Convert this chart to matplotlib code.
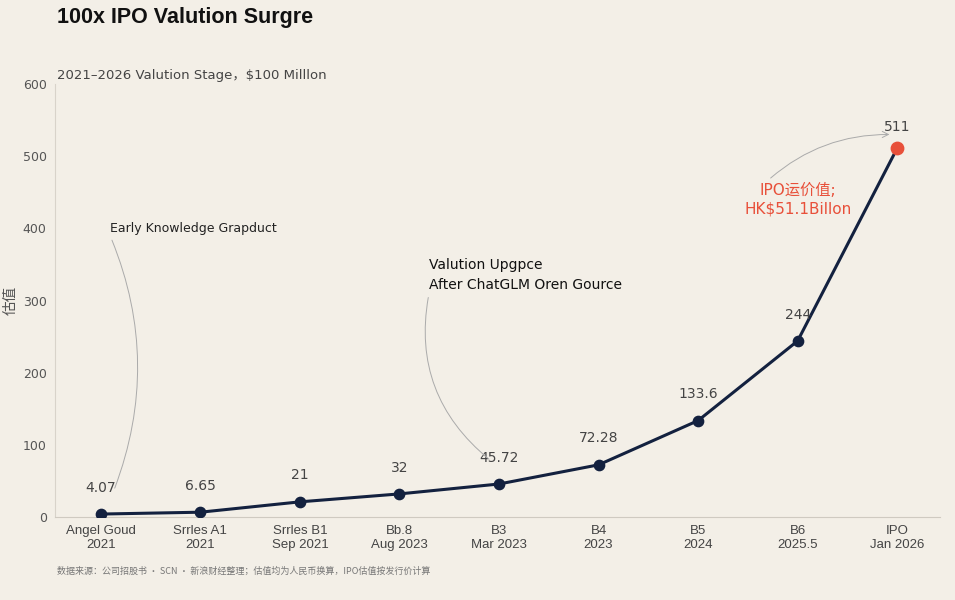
import matplotlib
matplotlib.use("Agg")
import matplotlib.pyplot as plt

plt.rcParams['font.family'] = ['DejaVu Sans', 'Noto Sans CJK SC']

stages = ["Angel Goud\n2021", "Srrles A1\n2021", "Srrles B1\nSep 2021", "Bb.8\nAug 2023",
          "B3\nMar 2023", "B4\n2023", "B5\n2024", "B6\n2025.5", "IPO\nJan 2026"]
values = [4.07, 6.65, 21, 32, 45.72, 72.28, 133.6, 244, 511]
value_labels = ["4.07", "6.65", "21", "32", "45.72", "72.28", "133.6", "244", "511"]
yticks = [0, 100, 200, 300, 400, 500, 600]

bg = "#f3efe7"
navy = "#13213f"
red = "#e8503a"

fig = plt.figure(figsize=(9.55, 6.0), dpi=100, facecolor=bg)
ax = fig.add_axes([55/955, 1-517/600, (940-55)/955, (517-84)/600])
ax.set_facecolor(bg)

x = list(range(len(values)))
ax.plot(x, values, color=navy, lw=2.2, zorder=3)
ax.scatter(x[:-1], values[:-1], s=55, color=navy, zorder=4)
ax.scatter([x[-1]], [values[-1]], s=80, color=red, zorder=5)

for xi, v, lab in zip(x, values, value_labels):
    ax.annotate(lab, (xi, v), xytext=(0, 15 if xi == 8 else 19), textcoords="offset points",
                ha="center", va="center", fontsize=10, color="#444444")

ax.set_xlim(-0.46, 8.43)
ax.set_ylim(0, 600)
ax.set_yticks(yticks)
ax.set_yticklabels([str(t) for t in yticks], fontsize=9, color="#555555")
ax.set_xticks(x)
ax.set_xticklabels(stages, fontsize=9.5, color="#444444", family=['Liberation Sans', 'DejaVu Sans'])
ax.tick_params(axis="both", length=0, pad=6)
ax.tick_params(axis="y", pad=6)
for s in ["top", "right"]:
    ax.spines[s].set_visible(False)
ax.spines["left"].set_color("#d8d3ca")
ax.spines["bottom"].set_color("#cfcac1")

fig.text(11/955, 1-300/600, "估值", fontsize=10.5, color="#555555", rotation=90,
         ha="center", va="center", family=['Noto Sans CJK SC', 'DejaVu Sans'])

# annotations
ax.annotate("Early Knowledge Grapduct", xy=(0.14, 40), xytext=(0.09, 400),
            fontsize=9, color="#222222", ha="left", va="center",
            arrowprops=dict(arrowstyle="-", color="#aaaaaa", lw=0.7, relpos=(0.0, 0.0),
                            connectionstyle="arc3,rad=-0.2", shrinkA=2, shrinkB=0))
ax.annotate("Valution Upgpce\nAfter ChatGLM Oren Gource", xy=(3.9, 80), xytext=(3.3, 335),
            fontsize=10, color="#111111", ha="left", va="center", linespacing=1.5,
            arrowprops=dict(arrowstyle="-", color="#aaaaaa", lw=0.7, relpos=(0.0, 0.0),
                            connectionstyle="arc3,rad=0.3", shrinkA=2, shrinkB=0))
ax.annotate("IPO运价值;\nHK$51.1Billon", xy=(7.95, 530), xytext=(7.0, 440),
            fontsize=11, color=red, ha="center", va="center", linespacing=1.3,
            family=['DejaVu Sans', 'Noto Sans CJK SC'],
            arrowprops=dict(arrowstyle="->", color="#aaaaaa", lw=0.7, relpos=(0.2, 1.0),
                            connectionstyle="arc3,rad=-0.2", shrinkA=2, shrinkB=2))

fig.text(57/955, 1-17/600, "100x IPO Valution Surgre", fontsize=15.5, fontweight="bold",
         color="#111111", ha="left", va="center", family=['Liberation Sans', 'DejaVu Sans'])
fig.text(57/955, 1-76/600, "2021–2026 Valution Stage，$100 Milllon", fontsize=9.5,
         color="#444444", ha="left", va="center", family=['DejaVu Sans', 'Noto Sans CJK SC'])
fig.text(57/955, 1-571/600, "数据来源：公司招股书 · SCN · 新浪财经整理；估值均为人民币换算，IPO估值按发行价计算",
         fontsize=6.5, color="#777777", ha="left", va="center", family=['Noto Sans CJK SC', 'DejaVu Sans'])

fig.savefig("out.png", dpi=100, facecolor=bg)
